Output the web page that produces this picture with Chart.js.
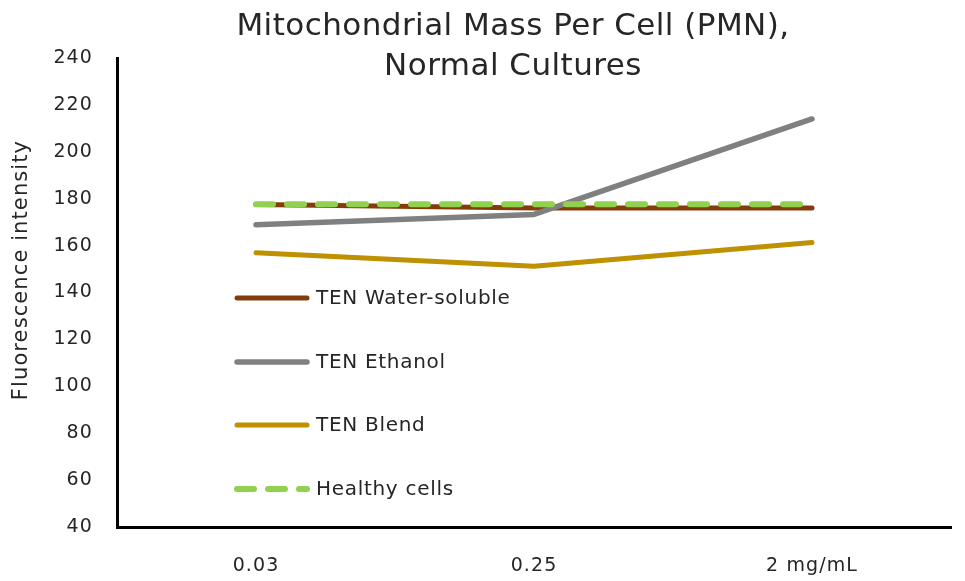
<!DOCTYPE html>
<html>
<head>
<meta charset="utf-8">
<script src="https://cdn.jsdelivr.net/npm/chart.js@4.4.1/dist/chart.umd.min.js"></script>
<style>
  html, body { margin: 0; padding: 0; background: #fff; }
  #wrap { width: 965px; height: 581px; position: relative; }
</style>
</head>
<body>
<div id="wrap"><canvas id="c" width="965" height="581"></canvas></div>
<script>
const categories = ['0.03', '0.25', '2 mg/mL'];
const waterSoluble = [177.5, 176, 176];
const ethanol = [168.9, 173.3, 214.0];
const blend = [157.0, 151.2, 161.3];
const healthy = [177.6, 177.6, 177.6];
const seriesNames = ['TEN Water-soluble', 'TEN Ethanol', 'TEN Blend', 'Healthy cells'];
const titleLines = ['Mitochondrial Mass Per Cell (PMN),', 'Normal Cultures'];
const yTitle = 'Fluorescence intensity';

const FONT = "'DejaVu Sans', 'Open Sans', sans-serif";
const TEXT = '#262626';

const spacingPlugin = {
  id: 'spacing',
  beforeUpdate(chart) { chart.ctx.letterSpacing = '1.1px'; },
  beforeDraw(chart) { chart.ctx.letterSpacing = '1.1px'; }
};

const titlePlugin = {
  id: 'titleDraw',
  afterDraw(chart) {
    const ctx = chart.ctx;
    ctx.save();
    ctx.letterSpacing = '0.45px';
    ctx.fillStyle = TEXT;
    ctx.font = `31px ${FONT}`;
    ctx.textAlign = 'center';
    ctx.textBaseline = 'middle';
    ctx.fillText(titleLines[0], 513, 27);
    ctx.fillText(titleLines[1], 513, 67);
    ctx.restore();
    // y axis title
    ctx.save();
    ctx.letterSpacing = '1.1px';
    ctx.translate(22, 270);
    ctx.rotate(-Math.PI / 2);
    ctx.fillStyle = TEXT;
    ctx.font = `21px ${FONT}`;
    ctx.textAlign = 'center';
    ctx.textBaseline = 'middle';
    ctx.fillText(yTitle, 0, 0);
    ctx.restore();
  }
};

const legendPlugin = {
  id: 'insideLegend',
  afterDraw(chart) {
    const ctx = chart.ctx;
    const ys = [298, 362, 425, 489];
    ctx.save();
    chart.data.datasets.forEach((ds, i) => {
      const y = ys[i];
      ctx.beginPath();
      ctx.strokeStyle = ds.borderColor;
      ctx.lineWidth = ds.borderWidth;
      ctx.lineCap = 'round';
      ctx.setLineDash(ds.borderDash || []);
      ctx.moveTo(237, y);
      ctx.lineTo(307, y);
      ctx.stroke();
      ctx.setLineDash([]);
      ctx.letterSpacing = '0.7px';
      ctx.fillStyle = TEXT;
      ctx.font = `20px ${FONT}`;
      ctx.textAlign = 'left';
      ctx.textBaseline = 'middle';
      ctx.fillText(ds.label, 316, y + 1);
    });
    ctx.restore();
  }
};

new Chart(document.getElementById('c'), {
  type: 'line',
  data: {
    labels: categories,
    datasets: [
      { label: seriesNames[0], data: waterSoluble, borderColor: '#843C0C', backgroundColor: '#843C0C', borderWidth: 5, order: 3 },
      { label: seriesNames[1], data: ethanol, borderColor: '#808080', backgroundColor: '#808080', borderWidth: 5.5, order: 1 },
      { label: seriesNames[2], data: blend, borderColor: '#BF9000', backgroundColor: '#BF9000', borderWidth: 5, order: 2 },
      { label: seriesNames[3], data: healthy, borderColor: '#92D050', backgroundColor: '#92D050', borderWidth: 6, borderDash: [17, 14], order: 0 }
    ]
  },
  options: {
    responsive: false,
    animation: false,
    devicePixelRatio: 1,
    layout: { padding: { left: 0, right: 14, top: 58, bottom: 0 } },
    elements: {
      point: { radius: 0, hoverRadius: 0 },
      line: { tension: 0, borderCapStyle: 'round', borderJoinStyle: 'round', fill: false }
    },
    plugins: {
      legend: { display: false },
      title: { display: false },
      tooltip: { enabled: false }
    },
    scales: {
      x: {
        offset: true,
        grid: { display: false, drawTicks: false },
        border: { display: true, color: '#000', width: 3 },
        ticks: { color: TEXT, font: { family: FONT, size: 19 }, padding: 28 },
        afterFit(s) { s.height = 54; }
      },
      y: {
        min: 40, max: 240,
        grid: { display: false, drawTicks: false },
        border: { display: true, color: '#000', width: 3 },
        ticks: { stepSize: 20, color: TEXT, font: { family: FONT, size: 19 }, padding: 24 },
        title: { display: false, text: yTitle },
        afterFit(s) { s.width = 117; }
      }
    }
  },
  plugins: [spacingPlugin, titlePlugin, legendPlugin]
});
</script>
</body>
</html>
